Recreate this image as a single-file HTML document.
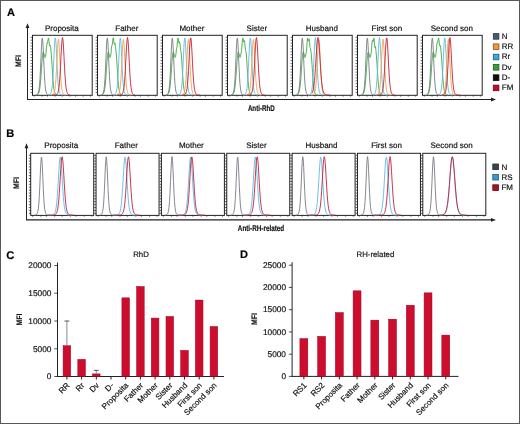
<!DOCTYPE html>
<html><head><meta charset="utf-8"><style>
html,body{margin:0;padding:0;background:#fff;}
body{width:520px;height:424px;overflow:hidden;font-family:"Liberation Sans",sans-serif;}
svg{display:block;text-rendering:geometricPrecision;}
</style></head><body>
<svg width="520" height="424" viewBox="0 0 520 424">
<defs><filter id="soft" x="0" y="0" width="520" height="424" filterUnits="userSpaceOnUse"><feGaussianBlur stdDeviation="0.32"/></filter></defs>
<g filter="url(#soft)">
<rect x="0" y="0" width="520" height="424" fill="#fff"/>
<text x="6.9" y="16.4" font-family="Liberation Sans, sans-serif" stroke="#111" stroke-width="0.18" font-weight="bold" font-size="11" fill="#000">A</text>
<line x1="27.5" y1="99.5" x2="27.5" y2="27" stroke="#222" stroke-width="1"/>
<path d="M27.5,23.2 L25.6,28.0 L29.4,28.0 Z" fill="#222"/>
<line x1="27" y1="99.45" x2="492" y2="99.45" stroke="#222" stroke-width="1.1"/>
<path d="M496,99.45 L491,97.5 L491,101.4 Z" fill="#222"/>
<text transform="translate(20.5,61) rotate(-90) scale(0.86,1)" text-anchor="middle" font-family="Liberation Sans, sans-serif" stroke="#111" stroke-width="0.18" font-weight="bold" font-size="8" fill="#111">MFI</text>
<text transform="translate(261.3,110.8) scale(0.74,1)" text-anchor="middle" font-family="Liberation Sans, sans-serif" stroke="#111" stroke-width="0.18" font-weight="bold" font-size="8.4" fill="#111">Anti-RhD</text>
<path d="M30.60,37.30H32.50 M30.60,40.20H32.50 M30.60,43.10H32.50 M30.60,46.00H32.50 M30.60,48.90H32.50 M30.60,51.80H32.50 M30.60,54.70H32.50 M30.60,57.60H32.50 M30.60,60.50H32.50 M30.60,63.40H32.50 M30.60,66.30H32.50 M30.60,69.20H32.50 M30.60,72.10H32.50 M30.60,75.00H32.50 M30.60,77.90H32.50 M30.60,80.80H32.50 M30.60,83.70H32.50 M30.60,86.60H32.50 M30.60,89.50H32.50 M30.60,92.40H32.50 M34.29,95.30V96.60 M42.05,95.30V96.60 M47.42,95.30V96.60 M55.19,95.30V96.60 M62.35,95.30V96.60 M70.11,95.30V96.60 M75.48,95.30V96.60 M83.25,95.30V96.60 M90.41,95.30V96.60" stroke="#333" stroke-width="0.75" fill="none"/>
<rect x="32.50" y="35.30" width="59.70" height="60.00" fill="none" stroke="#222" stroke-width="1"/>
<path d="M37.00,94.74 L37.50,94.50 L38.00,94.08 L38.50,93.36 L39.00,92.13 L39.50,90.09 L40.00,86.89 L40.50,82.19 L41.00,75.93 L41.50,68.58 L42.00,61.26 L42.50,55.43 L43.00,52.26 L43.50,52.04 L44.00,53.92 L44.50,56.27 L45.00,57.47 L45.50,56.56 L46.00,53.50 L46.50,47.27 L47.00,43.06 L47.50,43.21 L48.00,39.72 L48.50,38.00 L49.00,40.69 L49.50,45.76 L50.00,45.00 L50.50,45.78 L51.00,51.48 L51.50,56.94 L52.00,64.35 L52.50,72.54 L53.00,79.98 L53.50,85.68 L54.00,89.50 L54.50,91.84 L55.00,93.21 L55.50,94.00 L56.00,94.45 L56.50,94.70 L57.00,94.84 L57.50,94.91 L58.00,94.96" fill="none" stroke="#3ea83e" stroke-width="0.9" stroke-linejoin="round"/>
<path d="M36.00,94.93 L36.50,94.84 L37.00,94.64 L37.50,94.25 L38.00,93.50 L38.50,92.12 L39.00,89.65 L39.50,85.37 L40.00,78.56 L40.50,68.88 L41.00,57.23 L41.50,46.06 L42.00,38.80 L42.50,38.08 L43.00,44.19 L43.50,54.85 L44.00,66.65 L44.50,76.84 L45.00,84.24 L45.50,88.96 L46.00,91.74 L46.50,93.29 L47.00,94.13 L47.50,94.58 L48.00,94.81 L48.50,94.92 L49.00,94.97 L49.50,94.99 L50.00,95.00" fill="none" stroke="#767c84" stroke-width="0.9" stroke-linejoin="round"/>
<path d="M48.00,94.97 L48.50,94.94 L49.00,94.86 L49.50,94.70 L50.00,94.40 L50.50,93.84 L51.00,92.84 L51.50,91.08 L52.00,88.09 L52.50,83.24 L53.00,75.97 L53.50,66.28 L54.00,55.23 L54.50,45.07 L55.00,38.64 L55.50,38.01 L56.00,43.40 L56.50,53.04 L57.00,64.13 L57.50,74.21 L58.00,81.99 L58.50,87.29 L59.00,90.60 L59.50,92.56 L60.00,93.68 L60.50,94.31 L61.00,94.66 L61.50,94.84 L62.00,94.93 L62.50,94.97 L63.00,94.99" fill="none" stroke="#5bbbe6" stroke-width="0.9" stroke-linejoin="round"/>
<path d="M51.00,94.98 L51.50,94.95 L52.00,94.88 L52.50,94.75 L53.00,94.49 L53.50,94.01 L54.00,93.14 L54.50,91.62 L55.00,88.99 L55.50,84.69 L56.00,78.13 L56.50,69.14 L57.00,58.53 L57.50,48.27 L58.00,41.09 L58.50,39.26 L59.00,43.42 L59.50,52.16 L60.00,62.87 L60.50,73.00 L61.00,81.05 L61.50,86.66 L62.00,90.21 L62.50,92.33 L63.00,93.55 L63.50,94.24 L64.00,94.62 L64.50,94.82 L65.00,94.92 L65.50,94.96 L66.00,94.99" fill="none" stroke="#f3a54a" stroke-width="0.9" stroke-linejoin="round"/>
<path d="M52.00,95.00 L52.50,95.00 L53.00,95.00 L53.50,95.00 L54.00,94.99 L54.50,94.97 L55.00,94.94 L55.50,94.88 L56.00,94.75 L56.50,94.53 L57.00,94.12 L57.50,93.43 L58.00,92.26 L58.50,90.33 L59.00,87.22 L59.50,82.44 L60.00,75.62 L60.50,66.78 L61.00,56.73 L61.50,47.12 L62.00,40.09 L62.50,37.50 L63.00,40.09 L63.50,47.12 L64.00,56.73 L64.50,66.78 L65.00,75.62 L65.50,82.44 L66.00,87.22 L66.50,90.33 L67.00,92.26 L67.50,93.43 L68.00,94.12 L68.50,94.53 L69.00,94.75 L69.50,94.88 L70.00,94.94" fill="none" stroke="#c41e3a" stroke-width="0.9" stroke-linejoin="round"/>
<text x="61.85" y="30.6" text-anchor="middle" font-family="Liberation Sans, sans-serif" stroke="#111" stroke-width="0.18" font-size="8" fill="#111">Proposita</text>
<path d="M95.60,37.30H97.50 M95.60,40.20H97.50 M95.60,43.10H97.50 M95.60,46.00H97.50 M95.60,48.90H97.50 M95.60,51.80H97.50 M95.60,54.70H97.50 M95.60,57.60H97.50 M95.60,60.50H97.50 M95.60,63.40H97.50 M95.60,66.30H97.50 M95.60,69.20H97.50 M95.60,72.10H97.50 M95.60,75.00H97.50 M95.60,77.90H97.50 M95.60,80.80H97.50 M95.60,83.70H97.50 M95.60,86.60H97.50 M95.60,89.50H97.50 M95.60,92.40H97.50 M99.29,95.30V96.60 M107.05,95.30V96.60 M112.42,95.30V96.60 M120.19,95.30V96.60 M127.35,95.30V96.60 M135.11,95.30V96.60 M140.48,95.30V96.60 M148.25,95.30V96.60 M155.41,95.30V96.60" stroke="#333" stroke-width="0.75" fill="none"/>
<rect x="97.50" y="35.30" width="59.70" height="60.00" fill="none" stroke="#222" stroke-width="1"/>
<path d="M102.00,94.74 L102.50,94.50 L103.00,94.08 L103.50,93.36 L104.00,92.13 L104.50,90.09 L105.00,86.89 L105.50,82.19 L106.00,75.93 L106.50,68.58 L107.00,61.26 L107.50,55.43 L108.00,52.26 L108.50,52.04 L109.00,53.92 L109.50,56.27 L110.00,57.47 L110.50,56.56 L111.00,53.50 L111.50,46.86 L112.00,45.48 L112.50,43.02 L113.00,38.00 L113.50,38.00 L114.00,43.02 L114.50,44.38 L115.00,43.22 L115.50,47.47 L116.00,51.48 L116.50,56.94 L117.00,64.35 L117.50,72.54 L118.00,79.98 L118.50,85.68 L119.00,89.50 L119.50,91.84 L120.00,93.21 L120.50,94.00 L121.00,94.45 L121.50,94.70 L122.00,94.84 L122.50,94.91 L123.00,94.96" fill="none" stroke="#3ea83e" stroke-width="0.9" stroke-linejoin="round"/>
<path d="M101.00,94.93 L101.50,94.84 L102.00,94.64 L102.50,94.25 L103.00,93.50 L103.50,92.12 L104.00,89.65 L104.50,85.37 L105.00,78.56 L105.50,68.88 L106.00,57.23 L106.50,46.06 L107.00,38.80 L107.50,38.08 L108.00,44.19 L108.50,54.85 L109.00,66.65 L109.50,76.84 L110.00,84.24 L110.50,88.96 L111.00,91.74 L111.50,93.29 L112.00,94.13 L112.50,94.58 L113.00,94.81 L113.50,94.92 L114.00,94.97 L114.50,94.99 L115.00,95.00" fill="none" stroke="#767c84" stroke-width="0.9" stroke-linejoin="round"/>
<path d="M113.00,94.97 L113.50,94.94 L114.00,94.86 L114.50,94.70 L115.00,94.40 L115.50,93.84 L116.00,92.84 L116.50,91.08 L117.00,88.09 L117.50,83.24 L118.00,75.97 L118.50,66.28 L119.00,55.23 L119.50,45.07 L120.00,38.64 L120.50,38.01 L121.00,43.40 L121.50,53.04 L122.00,64.13 L122.50,74.21 L123.00,81.99 L123.50,87.29 L124.00,90.60 L124.50,92.56 L125.00,93.68 L125.50,94.31 L126.00,94.66 L126.50,94.84 L127.00,94.93 L127.50,94.97 L128.00,94.99" fill="none" stroke="#5bbbe6" stroke-width="0.9" stroke-linejoin="round"/>
<path d="M116.00,94.98 L116.50,94.95 L117.00,94.88 L117.50,94.75 L118.00,94.49 L118.50,94.01 L119.00,93.14 L119.50,91.62 L120.00,88.99 L120.50,84.69 L121.00,78.13 L121.50,69.14 L122.00,58.53 L122.50,48.27 L123.00,41.09 L123.50,39.26 L124.00,43.42 L124.50,52.16 L125.00,62.87 L125.50,73.00 L126.00,81.05 L126.50,86.66 L127.00,90.21 L127.50,92.33 L128.00,93.55 L128.50,94.24 L129.00,94.62 L129.50,94.82 L130.00,94.92 L130.50,94.96 L131.00,94.99" fill="none" stroke="#f3a54a" stroke-width="0.9" stroke-linejoin="round"/>
<path d="M117.00,95.00 L117.50,95.00 L118.00,95.00 L118.50,95.00 L119.00,94.99 L119.50,94.97 L120.00,94.94 L120.50,94.88 L121.00,94.75 L121.50,94.53 L122.00,94.12 L122.50,93.43 L123.00,92.26 L123.50,90.33 L124.00,87.22 L124.50,82.44 L125.00,75.62 L125.50,66.78 L126.00,56.73 L126.50,47.12 L127.00,40.09 L127.50,37.50 L128.00,40.09 L128.50,47.12 L129.00,56.73 L129.50,66.78 L130.00,75.62 L130.50,82.44 L131.00,87.22 L131.50,90.33 L132.00,92.26 L132.50,93.43 L133.00,94.12 L133.50,94.53 L134.00,94.75 L134.50,94.88 L135.00,94.94" fill="none" stroke="#c41e3a" stroke-width="0.9" stroke-linejoin="round"/>
<text x="126.85" y="30.6" text-anchor="middle" font-family="Liberation Sans, sans-serif" stroke="#111" stroke-width="0.18" font-size="8" fill="#111">Father</text>
<path d="M160.60,37.30H162.50 M160.60,40.20H162.50 M160.60,43.10H162.50 M160.60,46.00H162.50 M160.60,48.90H162.50 M160.60,51.80H162.50 M160.60,54.70H162.50 M160.60,57.60H162.50 M160.60,60.50H162.50 M160.60,63.40H162.50 M160.60,66.30H162.50 M160.60,69.20H162.50 M160.60,72.10H162.50 M160.60,75.00H162.50 M160.60,77.90H162.50 M160.60,80.80H162.50 M160.60,83.70H162.50 M160.60,86.60H162.50 M160.60,89.50H162.50 M160.60,92.40H162.50 M164.29,95.30V96.60 M172.05,95.30V96.60 M177.43,95.30V96.60 M185.19,95.30V96.60 M192.35,95.30V96.60 M200.11,95.30V96.60 M205.48,95.30V96.60 M213.25,95.30V96.60 M220.41,95.30V96.60" stroke="#333" stroke-width="0.75" fill="none"/>
<rect x="162.50" y="35.30" width="59.70" height="60.00" fill="none" stroke="#222" stroke-width="1"/>
<path d="M167.00,94.74 L167.50,94.50 L168.00,94.08 L168.50,93.36 L169.00,92.13 L169.50,90.09 L170.00,86.89 L170.50,82.19 L171.00,75.93 L171.50,68.58 L172.00,61.26 L172.50,55.43 L173.00,52.26 L173.50,52.04 L174.00,53.92 L174.50,56.27 L175.00,57.47 L175.50,56.56 L176.00,53.50 L176.50,48.46 L177.00,46.91 L177.50,40.74 L178.00,38.00 L178.50,39.79 L179.00,43.31 L179.50,41.90 L180.00,43.56 L180.50,49.64 L181.00,51.48 L181.50,56.94 L182.00,64.35 L182.50,72.54 L183.00,79.98 L183.50,85.68 L184.00,89.50 L184.50,91.84 L185.00,93.21 L185.50,94.00 L186.00,94.45 L186.50,94.70 L187.00,94.84 L187.50,94.91 L188.00,94.96" fill="none" stroke="#3ea83e" stroke-width="0.9" stroke-linejoin="round"/>
<path d="M166.00,94.93 L166.50,94.84 L167.00,94.64 L167.50,94.25 L168.00,93.50 L168.50,92.12 L169.00,89.65 L169.50,85.37 L170.00,78.56 L170.50,68.88 L171.00,57.23 L171.50,46.06 L172.00,38.80 L172.50,38.08 L173.00,44.19 L173.50,54.85 L174.00,66.65 L174.50,76.84 L175.00,84.24 L175.50,88.96 L176.00,91.74 L176.50,93.29 L177.00,94.13 L177.50,94.58 L178.00,94.81 L178.50,94.92 L179.00,94.97 L179.50,94.99 L180.00,95.00" fill="none" stroke="#767c84" stroke-width="0.9" stroke-linejoin="round"/>
<path d="M178.00,94.94 L178.50,94.86 L179.00,94.70 L179.50,94.40 L180.00,93.84 L180.50,92.84 L181.00,91.08 L181.50,88.09 L182.00,83.24 L182.50,75.97 L183.00,66.28 L183.50,55.23 L184.00,45.07 L184.50,38.64 L185.00,38.01 L185.50,43.40 L186.00,53.04 L186.50,64.13 L187.00,74.21 L187.50,81.99 L188.00,87.29 L188.50,90.60 L189.00,92.56 L189.50,93.68 L190.00,94.31 L190.50,94.66 L191.00,94.84 L191.50,94.93 L192.00,94.97 L192.50,94.99 L193.00,95.00" fill="none" stroke="#5bbbe6" stroke-width="0.9" stroke-linejoin="round"/>
<path d="M181.00,94.98 L181.50,94.95 L182.00,94.88 L182.50,94.75 L183.00,94.49 L183.50,94.01 L184.00,93.14 L184.50,91.62 L185.00,88.99 L185.50,84.69 L186.00,78.13 L186.50,69.14 L187.00,58.53 L187.50,48.27 L188.00,41.09 L188.50,39.26 L189.00,43.42 L189.50,52.16 L190.00,62.87 L190.50,73.00 L191.00,81.05 L191.50,86.66 L192.00,90.21 L192.50,92.33 L193.00,93.55 L193.50,94.24 L194.00,94.62 L194.50,94.82 L195.00,94.92 L195.50,94.96 L196.00,94.99" fill="none" stroke="#f3a54a" stroke-width="0.9" stroke-linejoin="round"/>
<path d="M182.00,94.99 L182.50,94.98 L183.00,94.96 L183.50,94.91 L184.00,94.81 L184.50,94.63 L185.00,94.31 L185.50,93.75 L186.00,92.80 L186.50,91.22 L187.00,88.63 L187.50,84.58 L188.00,78.61 L188.50,70.53 L189.00,60.81 L189.50,50.78 L190.00,42.45 L190.50,37.92 L191.00,38.45 L191.50,43.88 L192.00,52.72 L192.50,62.84 L193.00,72.30 L193.50,79.97 L194.00,85.53 L194.50,89.25 L195.00,91.60 L195.50,93.03 L196.00,93.89 L196.50,94.39 L197.00,94.68 L197.50,94.84 L198.00,94.92 L198.50,94.96 L199.00,94.98 L199.50,94.99 L200.00,95.00" fill="none" stroke="#c41e3a" stroke-width="0.9" stroke-linejoin="round"/>
<text x="191.85" y="30.6" text-anchor="middle" font-family="Liberation Sans, sans-serif" stroke="#111" stroke-width="0.18" font-size="8" fill="#111">Mother</text>
<path d="M225.60,37.30H227.50 M225.60,40.20H227.50 M225.60,43.10H227.50 M225.60,46.00H227.50 M225.60,48.90H227.50 M225.60,51.80H227.50 M225.60,54.70H227.50 M225.60,57.60H227.50 M225.60,60.50H227.50 M225.60,63.40H227.50 M225.60,66.30H227.50 M225.60,69.20H227.50 M225.60,72.10H227.50 M225.60,75.00H227.50 M225.60,77.90H227.50 M225.60,80.80H227.50 M225.60,83.70H227.50 M225.60,86.60H227.50 M225.60,89.50H227.50 M225.60,92.40H227.50 M229.29,95.30V96.60 M237.05,95.30V96.60 M242.43,95.30V96.60 M250.19,95.30V96.60 M257.35,95.30V96.60 M265.11,95.30V96.60 M270.48,95.30V96.60 M278.25,95.30V96.60 M285.41,95.30V96.60" stroke="#333" stroke-width="0.75" fill="none"/>
<rect x="227.50" y="35.30" width="59.70" height="60.00" fill="none" stroke="#222" stroke-width="1"/>
<path d="M232.00,94.74 L232.50,94.50 L233.00,94.08 L233.50,93.36 L234.00,92.13 L234.50,90.09 L235.00,86.89 L235.50,82.19 L236.00,75.93 L236.50,68.58 L237.00,61.26 L237.50,55.43 L238.00,52.26 L238.50,52.04 L239.00,53.92 L239.50,56.27 L240.00,57.47 L240.50,56.56 L241.00,53.50 L241.50,50.60 L242.00,46.02 L242.50,38.45 L243.00,38.00 L243.50,41.74 L244.00,41.29 L244.50,40.59 L245.00,45.73 L245.50,50.29 L246.00,51.48 L246.50,56.94 L247.00,64.35 L247.50,72.54 L248.00,79.98 L248.50,85.68 L249.00,89.50 L249.50,91.84 L250.00,93.21 L250.50,94.00 L251.00,94.45 L251.50,94.70 L252.00,94.84 L252.50,94.91 L253.00,94.96" fill="none" stroke="#3ea83e" stroke-width="0.9" stroke-linejoin="round"/>
<path d="M231.00,94.93 L231.50,94.84 L232.00,94.64 L232.50,94.25 L233.00,93.50 L233.50,92.12 L234.00,89.65 L234.50,85.37 L235.00,78.56 L235.50,68.88 L236.00,57.23 L236.50,46.06 L237.00,38.80 L237.50,38.08 L238.00,44.19 L238.50,54.85 L239.00,66.65 L239.50,76.84 L240.00,84.24 L240.50,88.96 L241.00,91.74 L241.50,93.29 L242.00,94.13 L242.50,94.58 L243.00,94.81 L243.50,94.92 L244.00,94.97 L244.50,94.99 L245.00,95.00" fill="none" stroke="#767c84" stroke-width="0.9" stroke-linejoin="round"/>
<path d="M243.00,94.97 L243.50,94.94 L244.00,94.86 L244.50,94.70 L245.00,94.40 L245.50,93.84 L246.00,92.84 L246.50,91.08 L247.00,88.09 L247.50,83.24 L248.00,75.97 L248.50,66.28 L249.00,55.23 L249.50,45.07 L250.00,38.64 L250.50,38.01 L251.00,43.40 L251.50,53.04 L252.00,64.13 L252.50,74.21 L253.00,81.99 L253.50,87.29 L254.00,90.60 L254.50,92.56 L255.00,93.68 L255.50,94.31 L256.00,94.66 L256.50,94.84 L257.00,94.93 L257.50,94.97 L258.00,94.99" fill="none" stroke="#5bbbe6" stroke-width="0.9" stroke-linejoin="round"/>
<path d="M246.00,94.98 L246.50,94.95 L247.00,94.88 L247.50,94.75 L248.00,94.49 L248.50,94.01 L249.00,93.14 L249.50,91.62 L250.00,88.99 L250.50,84.69 L251.00,78.13 L251.50,69.14 L252.00,58.53 L252.50,48.27 L253.00,41.09 L253.50,39.26 L254.00,43.42 L254.50,52.16 L255.00,62.87 L255.50,73.00 L256.00,81.05 L256.50,86.66 L257.00,90.21 L257.50,92.33 L258.00,93.55 L258.50,94.24 L259.00,94.62 L259.50,94.82 L260.00,94.92 L260.50,94.96 L261.00,94.99" fill="none" stroke="#f3a54a" stroke-width="0.9" stroke-linejoin="round"/>
<path d="M247.00,95.00 L247.50,94.99 L248.00,94.99 L248.50,94.97 L249.00,94.93 L249.50,94.86 L250.00,94.72 L250.50,94.46 L251.00,94.01 L251.50,93.24 L252.00,91.95 L252.50,89.81 L253.00,86.41 L253.50,81.25 L254.00,74.00 L254.50,64.83 L255.00,54.71 L255.50,45.44 L256.00,39.17 L256.50,37.61 L257.00,41.19 L257.50,48.91 L258.00,58.77 L258.50,68.69 L259.00,77.15 L259.50,83.55 L260.00,87.96 L260.50,90.79 L261.00,92.55 L261.50,93.60 L262.00,94.22 L262.50,94.58 L263.00,94.78 L263.50,94.89 L264.00,94.95 L264.50,94.98 L265.00,94.99" fill="none" stroke="#c41e3a" stroke-width="0.9" stroke-linejoin="round"/>
<text x="256.85" y="30.6" text-anchor="middle" font-family="Liberation Sans, sans-serif" stroke="#111" stroke-width="0.18" font-size="8" fill="#111">Sister</text>
<path d="M290.60,37.30H292.50 M290.60,40.20H292.50 M290.60,43.10H292.50 M290.60,46.00H292.50 M290.60,48.90H292.50 M290.60,51.80H292.50 M290.60,54.70H292.50 M290.60,57.60H292.50 M290.60,60.50H292.50 M290.60,63.40H292.50 M290.60,66.30H292.50 M290.60,69.20H292.50 M290.60,72.10H292.50 M290.60,75.00H292.50 M290.60,77.90H292.50 M290.60,80.80H292.50 M290.60,83.70H292.50 M290.60,86.60H292.50 M290.60,89.50H292.50 M290.60,92.40H292.50 M294.29,95.30V96.60 M302.05,95.30V96.60 M307.43,95.30V96.60 M315.19,95.30V96.60 M322.35,95.30V96.60 M330.11,95.30V96.60 M335.48,95.30V96.60 M343.25,95.30V96.60 M350.41,95.30V96.60" stroke="#333" stroke-width="0.75" fill="none"/>
<rect x="292.50" y="35.30" width="59.70" height="60.00" fill="none" stroke="#222" stroke-width="1"/>
<path d="M297.00,94.74 L297.50,94.50 L298.00,94.08 L298.50,93.36 L299.00,92.13 L299.50,90.09 L300.00,86.89 L300.50,82.19 L301.00,75.93 L301.50,68.58 L302.00,61.26 L302.50,55.43 L303.00,52.26 L303.50,52.04 L304.00,53.92 L304.50,56.27 L305.00,57.47 L305.50,56.56 L306.00,53.50 L306.50,51.31 L307.00,43.65 L307.50,38.27 L308.00,40.39 L308.50,41.23 L309.00,38.82 L309.50,41.67 L310.00,47.71 L310.50,48.83 L311.00,51.48 L311.50,56.94 L312.00,64.35 L312.50,72.54 L313.00,79.98 L313.50,85.68 L314.00,89.50 L314.50,91.84 L315.00,93.21 L315.50,94.00 L316.00,94.45 L316.50,94.70 L317.00,94.84 L317.50,94.91 L318.00,94.96" fill="none" stroke="#3ea83e" stroke-width="0.9" stroke-linejoin="round"/>
<path d="M296.00,94.93 L296.50,94.84 L297.00,94.64 L297.50,94.25 L298.00,93.50 L298.50,92.12 L299.00,89.65 L299.50,85.37 L300.00,78.56 L300.50,68.88 L301.00,57.23 L301.50,46.06 L302.00,38.80 L302.50,38.08 L303.00,44.19 L303.50,54.85 L304.00,66.65 L304.50,76.84 L305.00,84.24 L305.50,88.96 L306.00,91.74 L306.50,93.29 L307.00,94.13 L307.50,94.58 L308.00,94.81 L308.50,94.92 L309.00,94.97 L309.50,94.99 L310.00,95.00" fill="none" stroke="#767c84" stroke-width="0.9" stroke-linejoin="round"/>
<path d="M308.00,94.98 L308.50,94.95 L309.00,94.88 L309.50,94.74 L310.00,94.48 L310.50,93.98 L311.00,93.09 L311.50,91.52 L312.00,88.82 L312.50,84.39 L313.00,77.63 L313.50,68.38 L314.00,57.46 L314.50,46.90 L315.00,39.50 L315.50,37.63 L316.00,41.90 L316.50,50.90 L317.00,61.92 L317.50,72.36 L318.00,80.64 L318.50,86.41 L319.00,90.07 L319.50,92.25 L320.00,93.51 L320.50,94.22 L321.00,94.60 L321.50,94.81 L322.00,94.91 L322.50,94.96 L323.00,94.99" fill="none" stroke="#5bbbe6" stroke-width="0.9" stroke-linejoin="round"/>
<path d="M311.00,94.99 L311.50,94.97 L312.00,94.94 L312.50,94.86 L313.00,94.71 L313.50,94.42 L314.00,93.88 L314.50,92.90 L315.00,91.20 L315.50,88.29 L316.00,83.57 L316.50,76.52 L317.00,67.10 L317.50,56.36 L318.00,46.50 L318.50,40.24 L319.00,39.63 L319.50,44.87 L320.00,54.23 L320.50,65.01 L321.00,74.81 L321.50,82.36 L322.00,87.51 L322.50,90.73 L323.00,92.63 L323.50,93.72 L324.00,94.33 L324.50,94.67 L325.00,94.84 L325.50,94.93 L326.00,94.97" fill="none" stroke="#f3a54a" stroke-width="0.9" stroke-linejoin="round"/>
<path d="M312.00,93.15 L312.50,92.12 L313.00,90.56 L313.50,88.25 L314.00,84.95 L314.50,80.41 L315.00,74.47 L315.50,67.24 L316.00,59.16 L316.50,51.05 L317.00,44.02 L317.50,39.21 L318.00,37.50 L318.50,39.21 L319.00,44.02 L319.50,51.05 L320.00,59.16 L320.50,67.24 L321.00,74.47 L321.50,80.41 L322.00,84.95 L322.50,88.25 L323.00,90.56 L323.50,92.12 L324.00,93.15 L324.50,93.84 L325.00,94.28 L325.50,94.57 L326.00,94.75 L326.50,94.85 L327.00,94.92 L327.50,94.96 L328.00,94.98 L328.50,94.99 L329.00,94.99 L329.50,95.00 L330.00,95.00" fill="none" stroke="#c41e3a" stroke-width="0.9" stroke-linejoin="round"/>
<text x="321.85" y="30.6" text-anchor="middle" font-family="Liberation Sans, sans-serif" stroke="#111" stroke-width="0.18" font-size="8" fill="#111">Husband</text>
<path d="M355.60,37.30H357.50 M355.60,40.20H357.50 M355.60,43.10H357.50 M355.60,46.00H357.50 M355.60,48.90H357.50 M355.60,51.80H357.50 M355.60,54.70H357.50 M355.60,57.60H357.50 M355.60,60.50H357.50 M355.60,63.40H357.50 M355.60,66.30H357.50 M355.60,69.20H357.50 M355.60,72.10H357.50 M355.60,75.00H357.50 M355.60,77.90H357.50 M355.60,80.80H357.50 M355.60,83.70H357.50 M355.60,86.60H357.50 M355.60,89.50H357.50 M355.60,92.40H357.50 M359.29,95.30V96.60 M367.05,95.30V96.60 M372.43,95.30V96.60 M380.19,95.30V96.60 M387.35,95.30V96.60 M395.11,95.30V96.60 M400.48,95.30V96.60 M408.25,95.30V96.60 M415.41,95.30V96.60" stroke="#333" stroke-width="0.75" fill="none"/>
<rect x="357.50" y="35.30" width="59.70" height="60.00" fill="none" stroke="#222" stroke-width="1"/>
<path d="M362.00,94.74 L362.50,94.50 L363.00,94.08 L363.50,93.36 L364.00,92.13 L364.50,90.09 L365.00,86.89 L365.50,82.19 L366.00,75.93 L366.50,68.58 L367.00,61.26 L367.50,55.43 L368.00,52.26 L368.50,52.04 L369.00,53.92 L369.50,56.27 L370.00,57.47 L370.50,56.56 L371.00,53.50 L371.50,49.94 L372.00,41.96 L372.50,40.36 L373.00,41.70 L373.50,38.75 L374.00,38.17 L374.50,44.13 L375.00,47.70 L375.50,46.60 L376.00,51.48 L376.50,56.94 L377.00,64.35 L377.50,72.54 L378.00,79.98 L378.50,85.68 L379.00,89.50 L379.50,91.84 L380.00,93.21 L380.50,94.00 L381.00,94.45 L381.50,94.70 L382.00,94.84 L382.50,94.91 L383.00,94.96" fill="none" stroke="#3ea83e" stroke-width="0.9" stroke-linejoin="round"/>
<path d="M361.00,94.93 L361.50,94.84 L362.00,94.64 L362.50,94.25 L363.00,93.50 L363.50,92.12 L364.00,89.65 L364.50,85.37 L365.00,78.56 L365.50,68.88 L366.00,57.23 L366.50,46.06 L367.00,38.80 L367.50,38.08 L368.00,44.19 L368.50,54.85 L369.00,66.65 L369.50,76.84 L370.00,84.24 L370.50,88.96 L371.00,91.74 L371.50,93.29 L372.00,94.13 L372.50,94.58 L373.00,94.81 L373.50,94.92 L374.00,94.97 L374.50,94.99 L375.00,95.00" fill="none" stroke="#767c84" stroke-width="0.9" stroke-linejoin="round"/>
<path d="M373.00,94.90 L373.50,94.78 L374.00,94.54 L374.50,94.11 L375.00,93.31 L375.50,91.90 L376.00,89.48 L376.50,85.44 L377.00,79.19 L377.50,70.41 L378.00,59.69 L378.50,48.85 L379.00,40.60 L379.50,37.50 L380.00,40.60 L380.50,48.85 L381.00,59.69 L381.50,70.41 L382.00,79.19 L382.50,85.44 L383.00,89.48 L383.50,91.90 L384.00,93.31 L384.50,94.11 L385.00,94.54 L385.50,94.78 L386.00,94.90 L386.50,94.96 L387.00,94.98 L387.50,94.99 L388.00,95.00" fill="none" stroke="#5bbbe6" stroke-width="0.9" stroke-linejoin="round"/>
<path d="M376.00,94.96 L376.50,94.90 L377.00,94.79 L377.50,94.56 L378.00,94.13 L378.50,93.36 L379.00,91.99 L379.50,89.63 L380.00,85.72 L380.50,79.64 L381.00,71.11 L381.50,60.70 L382.00,50.16 L382.50,42.15 L383.00,39.14 L383.50,42.15 L384.00,50.16 L384.50,60.70 L385.00,71.11 L385.50,79.64 L386.00,85.72 L386.50,89.63 L387.00,91.99 L387.50,93.36 L388.00,94.13 L388.50,94.56 L389.00,94.79 L389.50,94.90 L390.00,94.96 L390.50,94.98 L391.00,94.99" fill="none" stroke="#f3a54a" stroke-width="0.9" stroke-linejoin="round"/>
<path d="M377.00,95.00 L377.50,95.00 L378.00,94.99 L378.50,94.98 L379.00,94.96 L379.50,94.91 L380.00,94.81 L380.50,94.63 L381.00,94.31 L381.50,93.75 L382.00,92.80 L382.50,91.22 L383.00,88.63 L383.50,84.58 L384.00,78.61 L384.50,70.53 L385.00,60.81 L385.50,50.78 L386.00,42.45 L386.50,37.92 L387.00,38.45 L387.50,43.88 L388.00,52.72 L388.50,62.84 L389.00,72.30 L389.50,79.97 L390.00,85.53 L390.50,89.25 L391.00,91.60 L391.50,93.03 L392.00,93.89 L392.50,94.39 L393.00,94.68 L393.50,94.84 L394.00,94.92 L394.50,94.96 L395.00,94.98" fill="none" stroke="#c41e3a" stroke-width="0.9" stroke-linejoin="round"/>
<text x="386.85" y="30.6" text-anchor="middle" font-family="Liberation Sans, sans-serif" stroke="#111" stroke-width="0.18" font-size="8" fill="#111">First son</text>
<path d="M420.60,37.30H422.50 M420.60,40.20H422.50 M420.60,43.10H422.50 M420.60,46.00H422.50 M420.60,48.90H422.50 M420.60,51.80H422.50 M420.60,54.70H422.50 M420.60,57.60H422.50 M420.60,60.50H422.50 M420.60,63.40H422.50 M420.60,66.30H422.50 M420.60,69.20H422.50 M420.60,72.10H422.50 M420.60,75.00H422.50 M420.60,77.90H422.50 M420.60,80.80H422.50 M420.60,83.70H422.50 M420.60,86.60H422.50 M420.60,89.50H422.50 M420.60,92.40H422.50 M424.29,95.30V96.60 M432.05,95.30V96.60 M437.43,95.30V96.60 M445.19,95.30V96.60 M452.35,95.30V96.60 M460.11,95.30V96.60 M465.48,95.30V96.60 M473.25,95.30V96.60 M480.41,95.30V96.60" stroke="#333" stroke-width="0.75" fill="none"/>
<rect x="422.50" y="35.30" width="59.70" height="60.00" fill="none" stroke="#222" stroke-width="1"/>
<path d="M427.00,94.74 L427.50,94.50 L428.00,94.08 L428.50,93.36 L429.00,92.13 L429.50,90.09 L430.00,86.89 L430.50,82.19 L431.00,75.93 L431.50,68.58 L432.00,61.26 L432.50,55.43 L433.00,52.26 L433.50,52.04 L434.00,53.92 L434.50,56.27 L435.00,57.47 L435.50,56.56 L436.00,53.50 L436.50,47.75 L437.00,42.51 L437.50,42.79 L438.00,40.44 L438.50,38.00 L439.00,39.93 L439.50,45.72 L440.00,45.70 L440.50,45.65 L441.00,51.48 L441.50,56.94 L442.00,64.35 L442.50,72.54 L443.00,79.98 L443.50,85.68 L444.00,89.50 L444.50,91.84 L445.00,93.21 L445.50,94.00 L446.00,94.45 L446.50,94.70 L447.00,94.84 L447.50,94.91 L448.00,94.96" fill="none" stroke="#3ea83e" stroke-width="0.9" stroke-linejoin="round"/>
<path d="M426.00,94.93 L426.50,94.84 L427.00,94.64 L427.50,94.25 L428.00,93.50 L428.50,92.12 L429.00,89.65 L429.50,85.37 L430.00,78.56 L430.50,68.88 L431.00,57.23 L431.50,46.06 L432.00,38.80 L432.50,38.08 L433.00,44.19 L433.50,54.85 L434.00,66.65 L434.50,76.84 L435.00,84.24 L435.50,88.96 L436.00,91.74 L436.50,93.29 L437.00,94.13 L437.50,94.58 L438.00,94.81 L438.50,94.92 L439.00,94.97 L439.50,94.99 L440.00,95.00" fill="none" stroke="#767c84" stroke-width="0.9" stroke-linejoin="round"/>
<path d="M438.00,94.94 L438.50,94.86 L439.00,94.70 L439.50,94.40 L440.00,93.84 L440.50,92.84 L441.00,91.08 L441.50,88.09 L442.00,83.24 L442.50,75.97 L443.00,66.28 L443.50,55.23 L444.00,45.07 L444.50,38.64 L445.00,38.01 L445.50,43.40 L446.00,53.04 L446.50,64.13 L447.00,74.21 L447.50,81.99 L448.00,87.29 L448.50,90.60 L449.00,92.56 L449.50,93.68 L450.00,94.31 L450.50,94.66 L451.00,94.84 L451.50,94.93 L452.00,94.97 L452.50,94.99 L453.00,95.00" fill="none" stroke="#5bbbe6" stroke-width="0.9" stroke-linejoin="round"/>
<path d="M441.00,94.98 L441.50,94.95 L442.00,94.88 L442.50,94.75 L443.00,94.49 L443.50,94.01 L444.00,93.14 L444.50,91.62 L445.00,88.99 L445.50,84.69 L446.00,78.13 L446.50,69.14 L447.00,58.53 L447.50,48.27 L448.00,41.09 L448.50,39.26 L449.00,43.42 L449.50,52.16 L450.00,62.87 L450.50,73.00 L451.00,81.05 L451.50,86.66 L452.00,90.21 L452.50,92.33 L453.00,93.55 L453.50,94.24 L454.00,94.62 L454.50,94.82 L455.00,94.92 L455.50,94.96 L456.00,94.99" fill="none" stroke="#f3a54a" stroke-width="0.9" stroke-linejoin="round"/>
<path d="M442.00,94.97 L442.50,94.93 L443.00,94.86 L443.50,94.72 L444.00,94.46 L444.50,94.01 L445.00,93.24 L445.50,91.95 L446.00,89.81 L446.50,86.41 L447.00,81.25 L447.50,74.00 L448.00,64.83 L448.50,54.71 L449.00,45.44 L449.50,39.17 L450.00,37.61 L450.50,41.19 L451.00,48.91 L451.50,58.77 L452.00,68.69 L452.50,77.15 L453.00,83.55 L453.50,87.96 L454.00,90.79 L454.50,92.55 L455.00,93.60 L455.50,94.22 L456.00,94.58 L456.50,94.78 L457.00,94.89 L457.50,94.95 L458.00,94.98 L458.50,94.99 L459.00,95.00 L459.50,95.00 L460.00,95.00" fill="none" stroke="#c41e3a" stroke-width="0.9" stroke-linejoin="round"/>
<text x="451.85" y="30.6" text-anchor="middle" font-family="Liberation Sans, sans-serif" stroke="#111" stroke-width="0.18" font-size="8" fill="#111">Second son</text>
<rect x="493.3" y="33.60" width="5.6" height="5.6" fill="#4b5a6b" stroke="#2c3642" stroke-width="0.8"/>
<text x="501.8" y="38.80" font-family="Liberation Sans, sans-serif" stroke="#111" stroke-width="0.18" font-size="8" fill="#111">N</text>
<rect x="493.3" y="43.90" width="5.6" height="5.6" fill="#f0963a" stroke="#8a5520" stroke-width="0.8"/>
<text x="501.8" y="49.10" font-family="Liberation Sans, sans-serif" stroke="#111" stroke-width="0.18" font-size="8" fill="#111">RR</text>
<rect x="493.3" y="54.20" width="5.6" height="5.6" fill="#3aa9dc" stroke="#1d5a78" stroke-width="0.8"/>
<text x="501.8" y="59.40" font-family="Liberation Sans, sans-serif" stroke="#111" stroke-width="0.18" font-size="8" fill="#111">Rr</text>
<rect x="493.3" y="64.50" width="5.6" height="5.6" fill="#3a9e3a" stroke="#1f5a1f" stroke-width="0.8"/>
<text x="501.8" y="69.70" font-family="Liberation Sans, sans-serif" stroke="#111" stroke-width="0.18" font-size="8" fill="#111">Dv</text>
<rect x="493.3" y="74.80" width="5.6" height="5.6" fill="#111" stroke="#000" stroke-width="0.8"/>
<text x="501.8" y="80.00" font-family="Liberation Sans, sans-serif" stroke="#111" stroke-width="0.18" font-size="8" fill="#111">D-</text>
<rect x="493.3" y="85.10" width="5.6" height="5.6" fill="#c0102c" stroke="#6a0818" stroke-width="0.8"/>
<text x="501.8" y="90.30" font-family="Liberation Sans, sans-serif" stroke="#111" stroke-width="0.18" font-size="8" fill="#111">FM</text>
<text x="6.3" y="136.7" font-family="Liberation Sans, sans-serif" stroke="#111" stroke-width="0.18" font-weight="bold" font-size="11" fill="#000">B</text>
<line x1="26.5" y1="220" x2="26.5" y2="147" stroke="#222" stroke-width="1"/>
<path d="M26.5,143.3 L24.6,148.2 L28.4,148.2 Z" fill="#222"/>
<line x1="26" y1="219.9" x2="492" y2="219.9" stroke="#222" stroke-width="1.1"/>
<path d="M496,219.9 L491,218 L491,221.8 Z" fill="#222"/>
<text transform="translate(18.7,183) rotate(-90) scale(0.86,1)" text-anchor="middle" font-family="Liberation Sans, sans-serif" stroke="#111" stroke-width="0.18" font-weight="bold" font-size="8" fill="#111">MFI</text>
<text transform="translate(261,230.8) scale(0.755,1)" text-anchor="middle" font-family="Liberation Sans, sans-serif" stroke="#111" stroke-width="0.18" font-weight="bold" font-size="8.4" fill="#111">Anti-RH-related</text>
<path d="M28.80,155.30H30.70 M28.80,158.20H30.70 M28.80,161.10H30.70 M28.80,164.00H30.70 M28.80,166.90H30.70 M28.80,169.80H30.70 M28.80,172.70H30.70 M28.80,175.60H30.70 M28.80,178.50H30.70 M28.80,181.40H30.70 M28.80,184.30H30.70 M28.80,187.20H30.70 M28.80,190.10H30.70 M28.80,193.00H30.70 M28.80,195.90H30.70 M28.80,198.80H30.70 M28.80,201.70H30.70 M28.80,204.60H30.70 M28.80,207.50H30.70 M28.80,210.40H30.70 M28.80,213.30H30.70 M32.59,215.40V216.70 M40.78,215.40V216.70 M46.45,215.40V216.70 M54.64,215.40V216.70 M62.20,215.40V216.70 M70.39,215.40V216.70 M76.06,215.40V216.70 M84.25,215.40V216.70 M91.81,215.40V216.70" stroke="#333" stroke-width="0.75" fill="none"/>
<rect x="30.70" y="153.30" width="63.00" height="62.10" fill="none" stroke="#222" stroke-width="1"/>
<path d="M34.30,215.09 L34.80,215.07 L35.30,215.02 L35.80,214.90 L36.30,214.67 L36.80,214.22 L37.30,213.36 L37.80,211.78 L38.30,208.96 L38.80,204.15 L39.30,196.63 L39.80,186.26 L40.30,174.25 L40.80,163.40 L41.30,157.19 L41.80,157.92 L42.30,165.31 L42.80,176.67 L43.30,188.53 L43.80,198.37 L44.30,205.31 L44.80,209.65 L45.30,212.17 L45.80,213.58 L46.30,214.33 L46.80,214.73 L47.30,214.93 L47.80,215.03 L48.30,215.07 L48.80,215.09 L49.30,215.10" fill="none" stroke="#767c84" stroke-width="0.9" stroke-linejoin="round"/>
<path d="M48.30,215.10 L48.80,215.10 L49.30,215.10 L49.80,215.09 L50.30,215.09 L50.80,215.08 L51.30,215.05 L51.80,215.01 L52.30,214.94 L52.80,214.81 L53.30,214.59 L53.80,214.24 L54.30,213.69 L54.80,212.82 L55.30,211.48 L55.80,209.45 L56.30,206.44 L56.80,202.14 L57.30,196.34 L57.80,189.03 L58.30,180.61 L58.80,171.96 L59.30,164.30 L59.80,159.00 L60.30,157.10 L60.80,159.00 L61.30,164.30 L61.80,171.96 L62.30,180.61 L62.80,189.03 L63.30,196.34 L63.80,202.14 L64.30,206.44 L64.80,209.45 L65.30,211.48 L65.80,212.82 L66.30,213.69 L66.80,214.24 L67.30,214.59 L67.80,214.81 L68.30,214.94 L68.80,215.01 L69.30,215.05 L69.80,215.08 L70.30,215.09 L70.80,215.09 L71.30,215.10 L71.80,215.10 L72.30,215.10" fill="none" stroke="#5bbbe6" stroke-width="0.9" stroke-linejoin="round"/>
<path d="M48.30,215.10 L48.80,215.10 L49.30,215.10 L49.80,215.10 L50.30,215.10 L50.80,215.10 L51.30,215.10 L51.80,215.09 L52.30,215.08 L52.80,215.07 L53.30,215.04 L53.80,214.98 L54.30,214.89 L54.80,214.73 L55.30,214.46 L55.80,214.04 L56.30,213.37 L56.80,212.33 L57.30,210.73 L57.80,208.32 L58.30,204.80 L58.80,199.88 L59.30,193.40 L59.80,185.51 L60.30,176.79 L60.80,168.30 L61.30,161.37 L61.80,157.30 L62.30,156.91 L62.80,160.29 L63.30,166.74 L63.80,175.03 L64.30,183.80 L64.80,191.92 L65.30,198.70 L65.80,203.93 L66.30,207.72 L66.80,210.32 L67.30,212.06 L67.80,213.20 L68.30,213.93 L68.80,214.40 L69.30,214.69 L69.80,214.86 L70.30,214.97 L70.80,215.03 L71.30,215.06 L71.80,215.08 L72.30,215.09 L72.80,215.10 L73.30,215.10 L73.80,215.10 L74.30,215.10" fill="none" stroke="#c41e3a" stroke-width="0.9" stroke-linejoin="round"/>
<text x="61.20" y="148.0" text-anchor="middle" font-family="Liberation Sans, sans-serif" stroke="#111" stroke-width="0.18" font-size="8" fill="#111">Proposita</text>
<path d="M94.15,155.30H96.05 M94.15,158.20H96.05 M94.15,161.10H96.05 M94.15,164.00H96.05 M94.15,166.90H96.05 M94.15,169.80H96.05 M94.15,172.70H96.05 M94.15,175.60H96.05 M94.15,178.50H96.05 M94.15,181.40H96.05 M94.15,184.30H96.05 M94.15,187.20H96.05 M94.15,190.10H96.05 M94.15,193.00H96.05 M94.15,195.90H96.05 M94.15,198.80H96.05 M94.15,201.70H96.05 M94.15,204.60H96.05 M94.15,207.50H96.05 M94.15,210.40H96.05 M94.15,213.30H96.05 M97.94,215.40V216.70 M106.13,215.40V216.70 M111.80,215.40V216.70 M119.99,215.40V216.70 M127.55,215.40V216.70 M135.74,215.40V216.70 M141.41,215.40V216.70 M149.60,215.40V216.70 M157.16,215.40V216.70" stroke="#333" stroke-width="0.75" fill="none"/>
<rect x="96.05" y="153.30" width="63.00" height="62.10" fill="none" stroke="#222" stroke-width="1"/>
<path d="M99.65,215.06 L100.15,215.00 L100.65,214.87 L101.15,214.60 L101.65,214.09 L102.15,213.11 L102.65,211.33 L103.15,208.18 L103.65,202.88 L104.15,194.77 L104.65,183.92 L105.15,171.88 L105.65,161.69 L106.15,156.75 L106.65,158.92 L107.15,167.38 L107.65,179.10 L108.15,190.71 L108.65,199.99 L109.15,206.36 L109.65,210.28 L110.15,212.53 L110.65,213.77 L111.15,214.44 L111.65,214.79 L112.15,214.96 L112.65,215.04 L113.15,215.08 L113.65,215.09 L114.15,215.10 L114.65,215.10" fill="none" stroke="#767c84" stroke-width="0.9" stroke-linejoin="round"/>
<path d="M113.65,215.10 L114.15,215.10 L114.65,215.09 L115.15,215.09 L115.65,215.07 L116.15,215.05 L116.65,215.00 L117.15,214.91 L117.65,214.77 L118.15,214.53 L118.65,214.15 L119.15,213.54 L119.65,212.60 L120.15,211.14 L120.65,208.93 L121.15,205.69 L121.65,201.10 L122.15,194.99 L122.65,187.41 L123.15,178.87 L123.65,170.30 L124.15,163.01 L124.65,158.32 L125.15,157.18 L125.65,159.81 L126.15,165.69 L126.65,173.65 L127.15,182.35 L127.65,190.60 L128.15,197.62 L128.65,203.11 L129.15,207.13 L129.65,209.92 L130.15,211.80 L130.65,213.03 L131.15,213.82 L131.65,214.32 L132.15,214.64 L132.65,214.84 L133.15,214.95 L133.65,215.02 L134.15,215.06 L134.65,215.08 L135.15,215.09 L135.65,215.10 L136.15,215.10 L136.65,215.10 L137.15,215.10 L137.65,215.10" fill="none" stroke="#5bbbe6" stroke-width="0.9" stroke-linejoin="round"/>
<path d="M113.65,215.10 L114.15,215.10 L114.65,215.10 L115.15,215.10 L115.65,215.10 L116.15,215.10 L116.65,215.10 L117.15,215.10 L117.65,215.10 L118.15,215.09 L118.65,215.08 L119.15,215.07 L119.65,215.04 L120.15,214.98 L120.65,214.89 L121.15,214.73 L121.65,214.46 L122.15,214.04 L122.65,213.37 L123.15,212.33 L123.65,210.73 L124.15,208.32 L124.65,204.80 L125.15,199.88 L125.65,193.40 L126.15,185.51 L126.65,176.79 L127.15,168.30 L127.65,161.37 L128.15,157.30 L128.65,156.91 L129.15,160.29 L129.65,166.74 L130.15,175.03 L130.65,183.80 L131.15,191.92 L131.65,198.70 L132.15,203.93 L132.65,207.72 L133.15,210.32 L133.65,212.06 L134.15,213.20 L134.65,213.93 L135.15,214.40 L135.65,214.69 L136.15,214.86 L136.65,214.97 L137.15,215.03 L137.65,215.06 L138.15,215.08 L138.65,215.09 L139.15,215.10 L139.65,215.10" fill="none" stroke="#c41e3a" stroke-width="0.9" stroke-linejoin="round"/>
<text x="126.27" y="148.0" text-anchor="middle" font-family="Liberation Sans, sans-serif" stroke="#111" stroke-width="0.18" font-size="8" fill="#111">Father</text>
<path d="M159.50,155.30H161.40 M159.50,158.20H161.40 M159.50,161.10H161.40 M159.50,164.00H161.40 M159.50,166.90H161.40 M159.50,169.80H161.40 M159.50,172.70H161.40 M159.50,175.60H161.40 M159.50,178.50H161.40 M159.50,181.40H161.40 M159.50,184.30H161.40 M159.50,187.20H161.40 M159.50,190.10H161.40 M159.50,193.00H161.40 M159.50,195.90H161.40 M159.50,198.80H161.40 M159.50,201.70H161.40 M159.50,204.60H161.40 M159.50,207.50H161.40 M159.50,210.40H161.40 M159.50,213.30H161.40 M163.29,215.40V216.70 M171.48,215.40V216.70 M177.15,215.40V216.70 M185.34,215.40V216.70 M192.90,215.40V216.70 M201.09,215.40V216.70 M206.76,215.40V216.70 M214.95,215.40V216.70 M222.51,215.40V216.70" stroke="#333" stroke-width="0.75" fill="none"/>
<rect x="161.40" y="153.30" width="63.00" height="62.10" fill="none" stroke="#222" stroke-width="1"/>
<path d="M165.00,215.08 L165.50,215.05 L166.00,214.98 L166.50,214.83 L167.00,214.53 L167.50,213.94 L168.00,212.84 L168.50,210.84 L169.00,207.32 L169.50,201.50 L170.00,192.79 L170.50,181.53 L171.00,169.58 L171.50,160.19 L172.00,156.60 L172.50,160.19 L173.00,169.58 L173.50,181.53 L174.00,192.79 L174.50,201.50 L175.00,207.32 L175.50,210.84 L176.00,212.84 L176.50,213.94 L177.00,214.53 L177.50,214.83 L178.00,214.98 L178.50,215.05 L179.00,215.08 L179.50,215.09 L180.00,215.10" fill="none" stroke="#767c84" stroke-width="0.9" stroke-linejoin="round"/>
<path d="M179.00,215.10 L179.50,215.10 L180.00,215.10 L180.50,215.09 L181.00,215.08 L181.50,215.06 L182.00,215.02 L182.50,214.95 L183.00,214.84 L183.50,214.64 L184.00,214.32 L184.50,213.82 L185.00,213.03 L185.50,211.80 L186.00,209.92 L186.50,207.13 L187.00,203.11 L187.50,197.62 L188.00,190.60 L188.50,182.35 L189.00,173.65 L189.50,165.69 L190.00,159.81 L190.50,157.18 L191.00,158.32 L191.50,163.01 L192.00,170.30 L192.50,178.87 L193.00,187.41 L193.50,194.99 L194.00,201.10 L194.50,205.69 L195.00,208.93 L195.50,211.14 L196.00,212.60 L196.50,213.54 L197.00,214.15 L197.50,214.53 L198.00,214.77 L198.50,214.91 L199.00,215.00 L199.50,215.05 L200.00,215.07 L200.50,215.09 L201.00,215.09 L201.50,215.10 L202.00,215.10 L202.50,215.10 L203.00,215.10" fill="none" stroke="#5bbbe6" stroke-width="0.9" stroke-linejoin="round"/>
<path d="M179.00,215.10 L179.50,215.10 L180.00,215.10 L180.50,215.10 L181.00,215.10 L181.50,215.09 L182.00,215.08 L182.50,215.07 L183.00,215.04 L183.50,214.98 L184.00,214.89 L184.50,214.73 L185.00,214.46 L185.50,214.04 L186.00,213.37 L186.50,212.33 L187.00,210.73 L187.50,208.32 L188.00,204.80 L188.50,199.88 L189.00,193.40 L189.50,185.51 L190.00,176.79 L190.50,168.30 L191.00,161.37 L191.50,157.30 L192.00,156.91 L192.50,160.29 L193.00,166.74 L193.50,175.03 L194.00,183.80 L194.50,191.92 L195.00,198.70 L195.50,203.93 L196.00,207.72 L196.50,210.32 L197.00,212.06 L197.50,213.20 L198.00,213.93 L198.50,214.40 L199.00,214.69 L199.50,214.86 L200.00,214.97 L200.50,215.03 L201.00,215.06 L201.50,215.08 L202.00,215.09 L202.50,215.10 L203.00,215.10 L203.50,215.10 L204.00,215.10 L204.50,215.10 L205.00,215.10" fill="none" stroke="#c41e3a" stroke-width="0.9" stroke-linejoin="round"/>
<text x="191.34" y="148.0" text-anchor="middle" font-family="Liberation Sans, sans-serif" stroke="#111" stroke-width="0.18" font-size="8" fill="#111">Mother</text>
<path d="M224.85,155.30H226.75 M224.85,158.20H226.75 M224.85,161.10H226.75 M224.85,164.00H226.75 M224.85,166.90H226.75 M224.85,169.80H226.75 M224.85,172.70H226.75 M224.85,175.60H226.75 M224.85,178.50H226.75 M224.85,181.40H226.75 M224.85,184.30H226.75 M224.85,187.20H226.75 M224.85,190.10H226.75 M224.85,193.00H226.75 M224.85,195.90H226.75 M224.85,198.80H226.75 M224.85,201.70H226.75 M224.85,204.60H226.75 M224.85,207.50H226.75 M224.85,210.40H226.75 M224.85,213.30H226.75 M228.64,215.40V216.70 M236.83,215.40V216.70 M242.50,215.40V216.70 M250.69,215.40V216.70 M258.25,215.40V216.70 M266.44,215.40V216.70 M272.11,215.40V216.70 M280.30,215.40V216.70 M287.86,215.40V216.70" stroke="#333" stroke-width="0.75" fill="none"/>
<rect x="226.75" y="153.30" width="63.00" height="62.10" fill="none" stroke="#222" stroke-width="1"/>
<path d="M230.35,215.09 L230.85,215.07 L231.35,215.03 L231.85,214.93 L232.35,214.73 L232.85,214.33 L233.35,213.58 L233.85,212.17 L234.35,209.65 L234.85,205.31 L235.35,198.37 L235.85,188.53 L236.35,176.67 L236.85,165.31 L237.35,157.92 L237.85,157.19 L238.35,163.40 L238.85,174.25 L239.35,186.26 L239.85,196.63 L240.35,204.15 L240.85,208.96 L241.35,211.78 L241.85,213.36 L242.35,214.22 L242.85,214.67 L243.35,214.90 L243.85,215.02 L244.35,215.07 L244.85,215.09 L245.35,215.10" fill="none" stroke="#767c84" stroke-width="0.9" stroke-linejoin="round"/>
<path d="M244.35,215.10 L244.85,215.09 L245.35,215.09 L245.85,215.08 L246.35,215.05 L246.85,215.01 L247.35,214.94 L247.85,214.81 L248.35,214.59 L248.85,214.24 L249.35,213.69 L249.85,212.82 L250.35,211.48 L250.85,209.45 L251.35,206.44 L251.85,202.14 L252.35,196.34 L252.85,189.03 L253.35,180.61 L253.85,171.96 L254.35,164.30 L254.85,159.00 L255.35,157.10 L255.85,159.00 L256.35,164.30 L256.85,171.96 L257.35,180.61 L257.85,189.03 L258.35,196.34 L258.85,202.14 L259.35,206.44 L259.85,209.45 L260.35,211.48 L260.85,212.82 L261.35,213.69 L261.85,214.24 L262.35,214.59 L262.85,214.81 L263.35,214.94 L263.85,215.01 L264.35,215.05 L264.85,215.08 L265.35,215.09 L265.85,215.09 L266.35,215.10 L266.85,215.10 L267.35,215.10 L267.85,215.10 L268.35,215.10" fill="none" stroke="#5bbbe6" stroke-width="0.9" stroke-linejoin="round"/>
<path d="M244.35,215.10 L244.85,215.10 L245.35,215.10 L245.85,215.10 L246.35,215.10 L246.85,215.09 L247.35,215.08 L247.85,215.07 L248.35,215.04 L248.85,214.98 L249.35,214.89 L249.85,214.73 L250.35,214.46 L250.85,214.04 L251.35,213.37 L251.85,212.33 L252.35,210.73 L252.85,208.32 L253.35,204.80 L253.85,199.88 L254.35,193.40 L254.85,185.51 L255.35,176.79 L255.85,168.30 L256.35,161.37 L256.85,157.30 L257.35,156.91 L257.85,160.29 L258.35,166.74 L258.85,175.03 L259.35,183.80 L259.85,191.92 L260.35,198.70 L260.85,203.93 L261.35,207.72 L261.85,210.32 L262.35,212.06 L262.85,213.20 L263.35,213.93 L263.85,214.40 L264.35,214.69 L264.85,214.86 L265.35,214.97 L265.85,215.03 L266.35,215.06 L266.85,215.08 L267.35,215.09 L267.85,215.10 L268.35,215.10 L268.85,215.10 L269.35,215.10 L269.85,215.10 L270.35,215.10" fill="none" stroke="#c41e3a" stroke-width="0.9" stroke-linejoin="round"/>
<text x="256.41" y="148.0" text-anchor="middle" font-family="Liberation Sans, sans-serif" stroke="#111" stroke-width="0.18" font-size="8" fill="#111">Sister</text>
<path d="M290.20,155.30H292.10 M290.20,158.20H292.10 M290.20,161.10H292.10 M290.20,164.00H292.10 M290.20,166.90H292.10 M290.20,169.80H292.10 M290.20,172.70H292.10 M290.20,175.60H292.10 M290.20,178.50H292.10 M290.20,181.40H292.10 M290.20,184.30H292.10 M290.20,187.20H292.10 M290.20,190.10H292.10 M290.20,193.00H292.10 M290.20,195.90H292.10 M290.20,198.80H292.10 M290.20,201.70H292.10 M290.20,204.60H292.10 M290.20,207.50H292.10 M290.20,210.40H292.10 M290.20,213.30H292.10 M293.99,215.40V216.70 M302.18,215.40V216.70 M307.85,215.40V216.70 M316.04,215.40V216.70 M323.60,215.40V216.70 M331.79,215.40V216.70 M337.46,215.40V216.70 M345.65,215.40V216.70 M353.21,215.40V216.70" stroke="#333" stroke-width="0.75" fill="none"/>
<rect x="292.10" y="153.30" width="63.00" height="62.10" fill="none" stroke="#222" stroke-width="1"/>
<path d="M295.70,215.08 L296.20,215.06 L296.70,215.00 L297.20,214.87 L297.70,214.60 L298.20,214.09 L298.70,213.11 L299.20,211.33 L299.70,208.18 L300.20,202.88 L300.70,194.77 L301.20,183.92 L301.70,171.88 L302.20,161.69 L302.70,156.75 L303.20,158.92 L303.70,167.38 L304.20,179.10 L304.70,190.71 L305.20,199.99 L305.70,206.36 L306.20,210.28 L306.70,212.53 L307.20,213.77 L307.70,214.44 L308.20,214.79 L308.70,214.96 L309.20,215.04 L309.70,215.08 L310.20,215.09 L310.70,215.10" fill="none" stroke="#767c84" stroke-width="0.9" stroke-linejoin="round"/>
<path d="M309.70,215.10 L310.20,215.10 L310.70,215.09 L311.20,215.08 L311.70,215.06 L312.20,215.02 L312.70,214.95 L313.20,214.84 L313.70,214.64 L314.20,214.32 L314.70,213.82 L315.20,213.03 L315.70,211.80 L316.20,209.92 L316.70,207.13 L317.20,203.11 L317.70,197.62 L318.20,190.60 L318.70,182.35 L319.20,173.65 L319.70,165.69 L320.20,159.81 L320.70,157.18 L321.20,158.32 L321.70,163.01 L322.20,170.30 L322.70,178.87 L323.20,187.41 L323.70,194.99 L324.20,201.10 L324.70,205.69 L325.20,208.93 L325.70,211.14 L326.20,212.60 L326.70,213.54 L327.20,214.15 L327.70,214.53 L328.20,214.77 L328.70,214.91 L329.20,215.00 L329.70,215.05 L330.20,215.07 L330.70,215.09 L331.20,215.09 L331.70,215.10 L332.20,215.10 L332.70,215.10 L333.20,215.10 L333.70,215.10" fill="none" stroke="#5bbbe6" stroke-width="0.9" stroke-linejoin="round"/>
<path d="M309.70,215.10 L310.20,215.10 L310.70,215.10 L311.20,215.10 L311.70,215.10 L312.20,215.10 L312.70,215.10 L313.20,215.10 L313.70,215.10 L314.20,215.09 L314.70,215.08 L315.20,215.06 L315.70,215.02 L316.20,214.95 L316.70,214.84 L317.20,214.64 L317.70,214.32 L318.20,213.81 L318.70,213.01 L319.20,211.77 L319.70,209.88 L320.20,207.06 L320.70,203.01 L321.20,197.47 L321.70,190.39 L322.20,182.07 L322.70,173.29 L323.20,165.26 L323.70,159.34 L324.20,156.68 L324.70,157.83 L325.20,162.56 L325.70,169.92 L326.20,178.55 L326.70,187.17 L327.20,194.81 L327.70,200.98 L328.20,205.61 L328.70,208.88 L329.20,211.10 L329.70,212.57 L330.20,213.53 L330.70,214.14 L331.20,214.53 L331.70,214.77 L332.20,214.91 L332.70,215.00 L333.20,215.05 L333.70,215.07 L334.20,215.09 L334.70,215.09 L335.20,215.10 L335.70,215.10" fill="none" stroke="#c41e3a" stroke-width="0.9" stroke-linejoin="round"/>
<text x="321.48" y="148.0" text-anchor="middle" font-family="Liberation Sans, sans-serif" stroke="#111" stroke-width="0.18" font-size="8" fill="#111">Husband</text>
<path d="M355.55,155.30H357.45 M355.55,158.20H357.45 M355.55,161.10H357.45 M355.55,164.00H357.45 M355.55,166.90H357.45 M355.55,169.80H357.45 M355.55,172.70H357.45 M355.55,175.60H357.45 M355.55,178.50H357.45 M355.55,181.40H357.45 M355.55,184.30H357.45 M355.55,187.20H357.45 M355.55,190.10H357.45 M355.55,193.00H357.45 M355.55,195.90H357.45 M355.55,198.80H357.45 M355.55,201.70H357.45 M355.55,204.60H357.45 M355.55,207.50H357.45 M355.55,210.40H357.45 M355.55,213.30H357.45 M359.34,215.40V216.70 M367.53,215.40V216.70 M373.20,215.40V216.70 M381.39,215.40V216.70 M388.95,215.40V216.70 M397.14,215.40V216.70 M402.81,215.40V216.70 M411.00,215.40V216.70 M418.56,215.40V216.70" stroke="#333" stroke-width="0.75" fill="none"/>
<rect x="357.45" y="153.30" width="63.00" height="62.10" fill="none" stroke="#222" stroke-width="1"/>
<path d="M361.05,215.05 L361.55,214.98 L362.05,214.83 L362.55,214.53 L363.05,213.94 L363.55,212.84 L364.05,210.84 L364.55,207.32 L365.05,201.50 L365.55,192.79 L366.05,181.53 L366.55,169.58 L367.05,160.19 L367.55,156.60 L368.05,160.19 L368.55,169.58 L369.05,181.53 L369.55,192.79 L370.05,201.50 L370.55,207.32 L371.05,210.84 L371.55,212.84 L372.05,213.94 L372.55,214.53 L373.05,214.83 L373.55,214.98 L374.05,215.05 L374.55,215.08 L375.05,215.09 L375.55,215.10 L376.05,215.10" fill="none" stroke="#767c84" stroke-width="0.9" stroke-linejoin="round"/>
<path d="M375.05,215.10 L375.55,215.10 L376.05,215.09 L376.55,215.08 L377.05,215.07 L377.55,215.04 L378.05,214.99 L378.55,214.89 L379.05,214.73 L379.55,214.47 L380.05,214.05 L380.55,213.39 L381.05,212.35 L381.55,210.77 L382.05,208.38 L382.55,204.89 L383.05,200.01 L383.55,193.58 L384.05,185.76 L384.55,177.12 L385.05,168.70 L385.55,161.83 L386.05,157.79 L386.55,157.41 L387.05,160.76 L387.55,167.16 L388.05,175.38 L388.55,184.07 L389.05,192.12 L389.55,198.84 L390.05,204.03 L390.55,207.78 L391.05,210.36 L391.55,212.09 L392.05,213.21 L392.55,213.94 L393.05,214.40 L393.55,214.69 L394.05,214.87 L394.55,214.97 L395.05,215.03 L395.55,215.06 L396.05,215.08 L396.55,215.09 L397.05,215.10 L397.55,215.10 L398.05,215.10 L398.55,215.10 L399.05,215.10" fill="none" stroke="#5bbbe6" stroke-width="0.9" stroke-linejoin="round"/>
<path d="M375.05,215.10 L375.55,215.10 L376.05,215.10 L376.55,215.10 L377.05,215.10 L377.55,215.10 L378.05,215.10 L378.55,215.10 L379.05,215.10 L379.55,215.09 L380.05,215.09 L380.55,215.08 L381.05,215.05 L381.55,215.01 L382.05,214.93 L382.55,214.80 L383.05,214.59 L383.55,214.23 L384.05,213.68 L384.55,212.80 L385.05,211.45 L385.55,209.40 L386.05,206.36 L386.55,202.03 L387.05,196.17 L387.55,188.80 L388.05,180.32 L388.55,171.58 L389.05,163.86 L389.55,158.52 L390.05,156.60 L390.55,158.52 L391.05,163.86 L391.55,171.58 L392.05,180.32 L392.55,188.80 L393.05,196.17 L393.55,202.03 L394.05,206.36 L394.55,209.40 L395.05,211.45 L395.55,212.80 L396.05,213.68 L396.55,214.23 L397.05,214.59 L397.55,214.80 L398.05,214.93 L398.55,215.01 L399.05,215.05 L399.55,215.08 L400.05,215.09 L400.55,215.09 L401.05,215.10" fill="none" stroke="#c41e3a" stroke-width="0.9" stroke-linejoin="round"/>
<text x="386.55" y="148.0" text-anchor="middle" font-family="Liberation Sans, sans-serif" stroke="#111" stroke-width="0.18" font-size="8" fill="#111">First son</text>
<path d="M420.90,155.30H422.80 M420.90,158.20H422.80 M420.90,161.10H422.80 M420.90,164.00H422.80 M420.90,166.90H422.80 M420.90,169.80H422.80 M420.90,172.70H422.80 M420.90,175.60H422.80 M420.90,178.50H422.80 M420.90,181.40H422.80 M420.90,184.30H422.80 M420.90,187.20H422.80 M420.90,190.10H422.80 M420.90,193.00H422.80 M420.90,195.90H422.80 M420.90,198.80H422.80 M420.90,201.70H422.80 M420.90,204.60H422.80 M420.90,207.50H422.80 M420.90,210.40H422.80 M420.90,213.30H422.80 M424.69,215.40V216.70 M432.88,215.40V216.70 M438.55,215.40V216.70 M446.74,215.40V216.70 M454.30,215.40V216.70 M462.49,215.40V216.70 M468.16,215.40V216.70 M476.35,215.40V216.70 M483.91,215.40V216.70" stroke="#333" stroke-width="0.75" fill="none"/>
<rect x="422.80" y="153.30" width="63.00" height="62.10" fill="none" stroke="#222" stroke-width="1"/>
<path d="M426.40,215.08 L426.90,215.06 L427.40,215.00 L427.90,214.87 L428.40,214.60 L428.90,214.09 L429.40,213.11 L429.90,211.33 L430.40,208.18 L430.90,202.88 L431.40,194.77 L431.90,183.92 L432.40,171.88 L432.90,161.69 L433.40,156.75 L433.90,158.92 L434.40,167.38 L434.90,179.10 L435.40,190.71 L435.90,199.99 L436.40,206.36 L436.90,210.28 L437.40,212.53 L437.90,213.77 L438.40,214.44 L438.90,214.79 L439.40,214.96 L439.90,215.04 L440.40,215.08 L440.90,215.09 L441.40,215.10" fill="none" stroke="#767c84" stroke-width="0.9" stroke-linejoin="round"/>
<path d="M440.40,215.08 L440.90,215.06 L441.40,215.03 L441.90,214.99 L442.40,214.92 L442.90,214.81 L443.40,214.65 L443.90,214.42 L444.40,214.07 L444.90,213.57 L445.40,212.86 L445.90,211.86 L446.40,210.45 L446.90,208.49 L447.40,205.84 L447.90,202.34 L448.40,197.87 L448.90,192.41 L449.40,186.09 L449.90,179.22 L450.40,172.29 L450.90,165.97 L451.40,160.96 L451.90,157.89 L452.40,157.15 L452.90,158.85 L453.40,162.77 L453.90,168.38 L454.40,175.03 L454.90,182.00 L455.40,188.71 L455.90,194.71 L456.40,199.78 L456.90,203.85 L457.40,207.00 L457.90,209.35 L458.40,211.07 L458.90,212.30 L459.40,213.18 L459.90,213.79 L460.40,214.22 L460.90,214.52 L461.40,214.72 L461.90,214.86 L462.40,214.95 L462.90,215.01 L463.40,215.05 L463.90,215.07 L464.40,215.08" fill="none" stroke="#5bbbe6" stroke-width="0.9" stroke-linejoin="round"/>
<path d="M440.40,215.06 L440.90,215.04 L441.40,215.00 L441.90,214.93 L442.40,214.84 L442.90,214.70 L443.40,214.49 L443.90,214.20 L444.40,213.78 L444.90,213.18 L445.40,212.35 L445.90,211.19 L446.40,209.59 L446.90,207.42 L447.40,204.54 L447.90,200.82 L448.40,196.17 L448.90,190.63 L449.40,184.33 L449.90,177.60 L450.40,170.94 L450.90,164.93 L451.40,160.21 L451.90,157.33 L452.40,156.65 L452.90,158.24 L453.40,161.91 L453.90,167.21 L454.40,173.56 L454.90,180.32 L455.40,186.92 L455.90,192.95 L456.40,198.14 L456.90,202.41 L457.40,205.79 L457.90,208.37 L458.40,210.29 L458.90,211.70 L459.40,212.72 L459.90,213.45 L460.40,213.96 L460.90,214.33 L461.40,214.59 L461.90,214.76 L462.40,214.88 L462.90,214.96 L463.40,215.01 L463.90,215.05 L464.40,215.07 L464.90,215.08 L465.40,215.09 L465.90,215.09 L466.40,215.10" fill="none" stroke="#c41e3a" stroke-width="0.9" stroke-linejoin="round"/>
<text x="451.62" y="148.0" text-anchor="middle" font-family="Liberation Sans, sans-serif" stroke="#111" stroke-width="0.18" font-size="8" fill="#111">Second son</text>
<rect x="492.8" y="164.00" width="5.6" height="5.6" fill="#3c4350" stroke="#22272f" stroke-width="0.8"/>
<text x="501.4" y="169.50" font-family="Liberation Sans, sans-serif" stroke="#111" stroke-width="0.18" font-size="8" fill="#111">N</text>
<rect x="492.8" y="174.40" width="5.6" height="5.6" fill="#3898cf" stroke="#1d5a78" stroke-width="0.8"/>
<text x="501.4" y="179.90" font-family="Liberation Sans, sans-serif" stroke="#111" stroke-width="0.18" font-size="8" fill="#111">RS</text>
<rect x="492.8" y="184.80" width="5.6" height="5.6" fill="#b0101f" stroke="#5a0810" stroke-width="0.8"/>
<text x="501.4" y="190.30" font-family="Liberation Sans, sans-serif" stroke="#111" stroke-width="0.18" font-size="8" fill="#111">FM</text>
<text x="6.2" y="258.7" font-family="Liberation Sans, sans-serif" stroke="#111" stroke-width="0.18" font-weight="bold" font-size="11.2" fill="#000">C</text>
<line x1="57.5" y1="377.0" x2="57.5" y2="262.50" stroke="#222" stroke-width="1"/>
<line x1="54.3" y1="376.50" x2="57.5" y2="376.50" stroke="#222" stroke-width="0.8"/>
<text x="51.40" y="379.30" text-anchor="end" font-family="Liberation Sans, sans-serif" stroke="#111" stroke-width="0.18" font-size="8.3" fill="#111">0</text>
<line x1="54.3" y1="348.75" x2="57.5" y2="348.75" stroke="#222" stroke-width="0.8"/>
<text x="51.40" y="351.55" text-anchor="end" font-family="Liberation Sans, sans-serif" stroke="#111" stroke-width="0.18" font-size="8.3" fill="#111">5000</text>
<line x1="54.3" y1="321.00" x2="57.5" y2="321.00" stroke="#222" stroke-width="0.8"/>
<text x="51.40" y="323.80" text-anchor="end" font-family="Liberation Sans, sans-serif" stroke="#111" stroke-width="0.18" font-size="8.3" fill="#111">10000</text>
<line x1="54.3" y1="293.25" x2="57.5" y2="293.25" stroke="#222" stroke-width="0.8"/>
<text x="51.40" y="296.05" text-anchor="end" font-family="Liberation Sans, sans-serif" stroke="#111" stroke-width="0.18" font-size="8.3" fill="#111">15000</text>
<line x1="54.3" y1="265.50" x2="57.5" y2="265.50" stroke="#222" stroke-width="0.8"/>
<text x="51.40" y="268.30" text-anchor="end" font-family="Liberation Sans, sans-serif" stroke="#111" stroke-width="0.18" font-size="8.3" fill="#111">20000</text>
<line x1="57.0" y1="376.5" x2="224" y2="376.5" stroke="#222" stroke-width="1"/>
<rect x="63.10" y="345.73" width="7.6" height="30.77" fill="#cc0a2d" stroke="#a00020" stroke-width="0.5"/>
<line x1="66.90" y1="345.03" x2="66.90" y2="321.00" stroke="#7d7d7d" stroke-width="0.9"/>
<line x1="64.50" y1="321.00" x2="69.30" y2="321.00" stroke="#444" stroke-width="0.9"/>
<line x1="66.90" y1="376.5" x2="66.90" y2="379.5" stroke="#222" stroke-width="1"/>
<text transform="translate(70.20,385.90) rotate(-45)" text-anchor="end" font-family="Liberation Sans, sans-serif" stroke="#111" stroke-width="0.18" font-size="8" fill="#111">RR</text>
<rect x="77.80" y="359.38" width="7.6" height="17.12" fill="#cc0a2d" stroke="#a00020" stroke-width="0.5"/>
<line x1="81.60" y1="376.5" x2="81.60" y2="379.5" stroke="#222" stroke-width="1"/>
<text transform="translate(84.90,385.90) rotate(-45)" text-anchor="end" font-family="Liberation Sans, sans-serif" stroke="#111" stroke-width="0.18" font-size="8" fill="#111">Rr</text>
<rect x="92.50" y="373.87" width="7.6" height="2.63" fill="#cc0a2d" stroke="#a00020" stroke-width="0.5"/>
<line x1="96.30" y1="373.17" x2="96.30" y2="370.39" stroke="#7d7d7d" stroke-width="0.9"/>
<line x1="93.90" y1="370.39" x2="98.70" y2="370.39" stroke="#444" stroke-width="0.9"/>
<line x1="96.30" y1="376.5" x2="96.30" y2="379.5" stroke="#222" stroke-width="1"/>
<text transform="translate(99.60,385.90) rotate(-45)" text-anchor="end" font-family="Liberation Sans, sans-serif" stroke="#111" stroke-width="0.18" font-size="8" fill="#111">Dv</text>
<line x1="111.00" y1="376.5" x2="111.00" y2="379.5" stroke="#222" stroke-width="1"/>
<text transform="translate(114.30,385.90) rotate(-45)" text-anchor="end" font-family="Liberation Sans, sans-serif" stroke="#111" stroke-width="0.18" font-size="8" fill="#111">D-</text>
<rect x="121.90" y="297.84" width="7.6" height="78.66" fill="#cc0a2d" stroke="#a00020" stroke-width="0.5"/>
<line x1="125.70" y1="376.5" x2="125.70" y2="379.5" stroke="#222" stroke-width="1"/>
<text transform="translate(129.00,385.90) rotate(-45)" text-anchor="end" font-family="Liberation Sans, sans-serif" stroke="#111" stroke-width="0.18" font-size="8" fill="#111">Proposita</text>
<rect x="136.60" y="286.51" width="7.6" height="89.99" fill="#cc0a2d" stroke="#a00020" stroke-width="0.5"/>
<line x1="140.40" y1="376.5" x2="140.40" y2="379.5" stroke="#222" stroke-width="1"/>
<text transform="translate(143.70,385.90) rotate(-45)" text-anchor="end" font-family="Liberation Sans, sans-serif" stroke="#111" stroke-width="0.18" font-size="8" fill="#111">Father</text>
<rect x="151.30" y="318.09" width="7.6" height="58.41" fill="#cc0a2d" stroke="#a00020" stroke-width="0.5"/>
<line x1="155.10" y1="376.5" x2="155.10" y2="379.5" stroke="#222" stroke-width="1"/>
<text transform="translate(158.40,385.90) rotate(-45)" text-anchor="end" font-family="Liberation Sans, sans-serif" stroke="#111" stroke-width="0.18" font-size="8" fill="#111">Mother</text>
<rect x="166.00" y="316.48" width="7.6" height="60.02" fill="#cc0a2d" stroke="#a00020" stroke-width="0.5"/>
<line x1="169.80" y1="376.5" x2="169.80" y2="379.5" stroke="#222" stroke-width="1"/>
<text transform="translate(173.10,385.90) rotate(-45)" text-anchor="end" font-family="Liberation Sans, sans-serif" stroke="#111" stroke-width="0.18" font-size="8" fill="#111">Sister</text>
<rect x="180.70" y="350.39" width="7.6" height="26.11" fill="#cc0a2d" stroke="#a00020" stroke-width="0.5"/>
<line x1="184.50" y1="376.5" x2="184.50" y2="379.5" stroke="#222" stroke-width="1"/>
<text transform="translate(187.80,385.90) rotate(-45)" text-anchor="end" font-family="Liberation Sans, sans-serif" stroke="#111" stroke-width="0.18" font-size="8" fill="#111">Husband</text>
<rect x="195.40" y="300.06" width="7.6" height="76.44" fill="#cc0a2d" stroke="#a00020" stroke-width="0.5"/>
<line x1="199.20" y1="376.5" x2="199.20" y2="379.5" stroke="#222" stroke-width="1"/>
<text transform="translate(202.50,385.90) rotate(-45)" text-anchor="end" font-family="Liberation Sans, sans-serif" stroke="#111" stroke-width="0.18" font-size="8" fill="#111">First son</text>
<rect x="210.10" y="326.53" width="7.6" height="49.97" fill="#cc0a2d" stroke="#a00020" stroke-width="0.5"/>
<line x1="213.90" y1="376.5" x2="213.90" y2="379.5" stroke="#222" stroke-width="1"/>
<text transform="translate(217.20,385.90) rotate(-45)" text-anchor="end" font-family="Liberation Sans, sans-serif" stroke="#111" stroke-width="0.18" font-size="8" fill="#111">Second son</text>
<text x="141" y="257.1" text-anchor="middle" font-family="Liberation Sans, sans-serif" stroke="#111" stroke-width="0.18" font-size="7.8" fill="#111">RhD</text>
<text transform="translate(22.2,319.5) rotate(-90) scale(0.86,1)" text-anchor="middle" font-family="Liberation Sans, sans-serif" stroke="#111" stroke-width="0.18" font-weight="bold" font-size="8" fill="#111">MFI</text>
<text x="240.1" y="257.9" font-family="Liberation Sans, sans-serif" stroke="#111" stroke-width="0.18" font-weight="bold" font-size="11" fill="#000">D</text>
<line x1="292.1" y1="376.9" x2="292.1" y2="262.20" stroke="#222" stroke-width="1"/>
<line x1="288.90000000000003" y1="376.40" x2="292.1" y2="376.40" stroke="#222" stroke-width="0.8"/>
<text x="286.00" y="379.20" text-anchor="end" font-family="Liberation Sans, sans-serif" stroke="#111" stroke-width="0.18" font-size="8.3" fill="#111">0</text>
<line x1="288.90000000000003" y1="354.16" x2="292.1" y2="354.16" stroke="#222" stroke-width="0.8"/>
<text x="286.00" y="356.96" text-anchor="end" font-family="Liberation Sans, sans-serif" stroke="#111" stroke-width="0.18" font-size="8.3" fill="#111">5000</text>
<line x1="288.90000000000003" y1="331.92" x2="292.1" y2="331.92" stroke="#222" stroke-width="0.8"/>
<text x="286.00" y="334.72" text-anchor="end" font-family="Liberation Sans, sans-serif" stroke="#111" stroke-width="0.18" font-size="8.3" fill="#111">10000</text>
<line x1="288.90000000000003" y1="309.68" x2="292.1" y2="309.68" stroke="#222" stroke-width="0.8"/>
<text x="286.00" y="312.48" text-anchor="end" font-family="Liberation Sans, sans-serif" stroke="#111" stroke-width="0.18" font-size="8.3" fill="#111">15000</text>
<line x1="288.90000000000003" y1="287.44" x2="292.1" y2="287.44" stroke="#222" stroke-width="0.8"/>
<text x="286.00" y="290.24" text-anchor="end" font-family="Liberation Sans, sans-serif" stroke="#111" stroke-width="0.18" font-size="8.3" fill="#111">20000</text>
<line x1="288.90000000000003" y1="265.20" x2="292.1" y2="265.20" stroke="#222" stroke-width="0.8"/>
<text x="286.00" y="268.00" text-anchor="end" font-family="Liberation Sans, sans-serif" stroke="#111" stroke-width="0.18" font-size="8.3" fill="#111">25000</text>
<line x1="291.6" y1="376.4" x2="458.5" y2="376.4" stroke="#222" stroke-width="1"/>
<rect x="299.90" y="338.62" width="7.9" height="37.78" fill="#cc0a2d" stroke="#a00020" stroke-width="0.5"/>
<line x1="303.85" y1="376.4" x2="303.85" y2="379.4" stroke="#222" stroke-width="1"/>
<text transform="translate(307.15,385.80) rotate(-45)" text-anchor="end" font-family="Liberation Sans, sans-serif" stroke="#111" stroke-width="0.18" font-size="8" fill="#111">RS1</text>
<rect x="317.64" y="336.40" width="7.9" height="40.00" fill="#cc0a2d" stroke="#a00020" stroke-width="0.5"/>
<line x1="321.59" y1="376.4" x2="321.59" y2="379.4" stroke="#222" stroke-width="1"/>
<text transform="translate(324.89,385.80) rotate(-45)" text-anchor="end" font-family="Liberation Sans, sans-serif" stroke="#111" stroke-width="0.18" font-size="8" fill="#111">RS2</text>
<rect x="335.38" y="312.60" width="7.9" height="63.80" fill="#cc0a2d" stroke="#a00020" stroke-width="0.5"/>
<line x1="339.33" y1="376.4" x2="339.33" y2="379.4" stroke="#222" stroke-width="1"/>
<text transform="translate(342.63,385.80) rotate(-45)" text-anchor="end" font-family="Liberation Sans, sans-serif" stroke="#111" stroke-width="0.18" font-size="8" fill="#111">Proposita</text>
<rect x="353.12" y="290.81" width="7.9" height="85.59" fill="#cc0a2d" stroke="#a00020" stroke-width="0.5"/>
<line x1="357.07" y1="376.4" x2="357.07" y2="379.4" stroke="#222" stroke-width="1"/>
<text transform="translate(360.37,385.80) rotate(-45)" text-anchor="end" font-family="Liberation Sans, sans-serif" stroke="#111" stroke-width="0.18" font-size="8" fill="#111">Father</text>
<rect x="370.86" y="320.17" width="7.9" height="56.23" fill="#cc0a2d" stroke="#a00020" stroke-width="0.5"/>
<line x1="374.81" y1="376.4" x2="374.81" y2="379.4" stroke="#222" stroke-width="1"/>
<text transform="translate(378.11,385.80) rotate(-45)" text-anchor="end" font-family="Liberation Sans, sans-serif" stroke="#111" stroke-width="0.18" font-size="8" fill="#111">Mother</text>
<rect x="388.60" y="319.19" width="7.9" height="57.21" fill="#cc0a2d" stroke="#a00020" stroke-width="0.5"/>
<line x1="392.55" y1="376.4" x2="392.55" y2="379.4" stroke="#222" stroke-width="1"/>
<text transform="translate(395.85,385.80) rotate(-45)" text-anchor="end" font-family="Liberation Sans, sans-serif" stroke="#111" stroke-width="0.18" font-size="8" fill="#111">Sister</text>
<rect x="406.34" y="305.26" width="7.9" height="71.14" fill="#cc0a2d" stroke="#a00020" stroke-width="0.5"/>
<line x1="410.29" y1="376.4" x2="410.29" y2="379.4" stroke="#222" stroke-width="1"/>
<text transform="translate(413.59,385.80) rotate(-45)" text-anchor="end" font-family="Liberation Sans, sans-serif" stroke="#111" stroke-width="0.18" font-size="8" fill="#111">Husband</text>
<rect x="424.08" y="292.85" width="7.9" height="83.55" fill="#cc0a2d" stroke="#a00020" stroke-width="0.5"/>
<line x1="428.03" y1="376.4" x2="428.03" y2="379.4" stroke="#222" stroke-width="1"/>
<text transform="translate(431.33,385.80) rotate(-45)" text-anchor="end" font-family="Liberation Sans, sans-serif" stroke="#111" stroke-width="0.18" font-size="8" fill="#111">First son</text>
<rect x="441.82" y="335.11" width="7.9" height="41.29" fill="#cc0a2d" stroke="#a00020" stroke-width="0.5"/>
<line x1="445.77" y1="376.4" x2="445.77" y2="379.4" stroke="#222" stroke-width="1"/>
<text transform="translate(449.07,385.80) rotate(-45)" text-anchor="end" font-family="Liberation Sans, sans-serif" stroke="#111" stroke-width="0.18" font-size="8" fill="#111">Second son</text>
<text x="375.4" y="257.1" text-anchor="middle" font-family="Liberation Sans, sans-serif" stroke="#111" stroke-width="0.18" font-size="7.8" fill="#111">RH-related</text>
<text transform="translate(256.6,319) rotate(-90) scale(0.86,1)" text-anchor="middle" font-family="Liberation Sans, sans-serif" stroke="#111" stroke-width="0.18" font-weight="bold" font-size="8" fill="#111">MFI</text>
</g>
<rect x="0.5" y="0.5" width="519" height="423" fill="none" stroke="#585858" stroke-width="1"/>
</svg>
</body></html>
